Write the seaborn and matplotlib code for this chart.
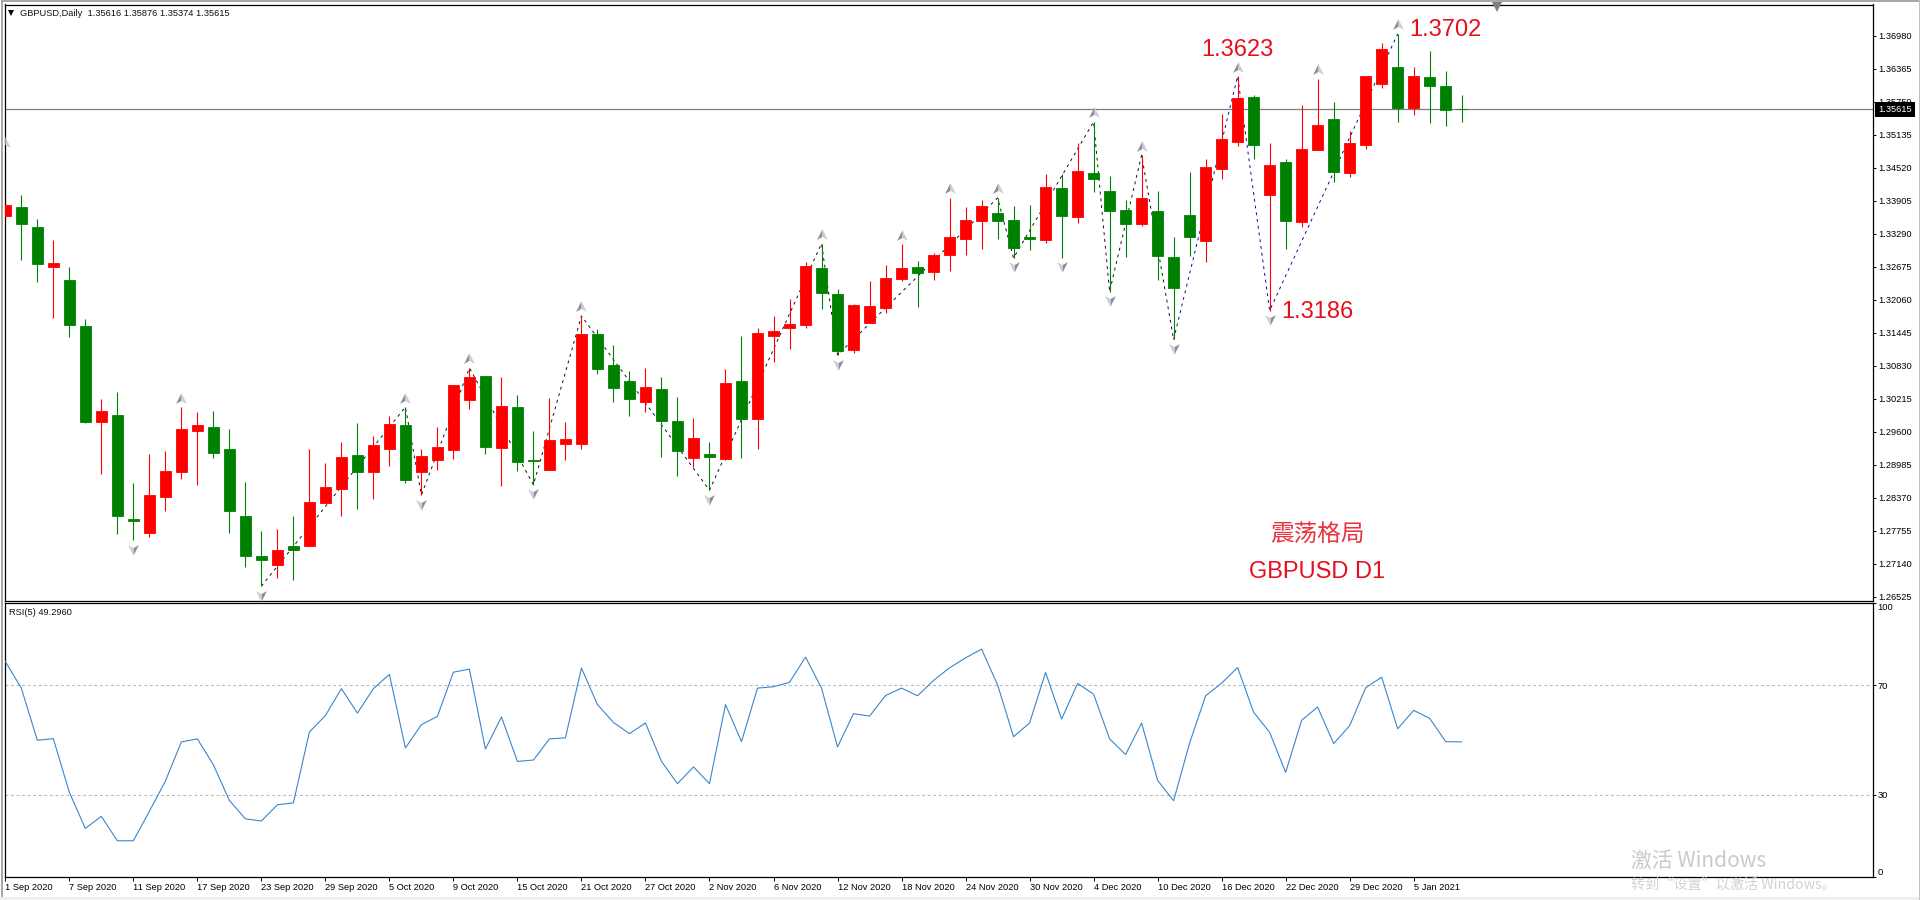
import numpy as np
import pandas as pd
import matplotlib
matplotlib.use("Agg")
import matplotlib.pyplot as plt
import matplotlib.transforms as mtrans
from matplotlib.path import Path
from matplotlib.patches import Rectangle
import seaborn as sns

highs = [1.3482,1.3402,1.3357,1.3318,1.3267,1.3170,1.3021,1.30335,1.2865,1.2918,
1.2924,1.3006,1.2997,1.2999,1.2965,1.2866,1.2775,1.2779,1.2803,1.2928,
1.2902,1.2941,1.2977,1.2952,1.2989,1.3006,1.2928,1.2969,1.3047,1.3079,
1.3064,1.3062,1.3028,1.2961,1.3023,1.2978,1.3176,1.3152,1.3122,1.3073,
1.3079,1.3062,1.3025,1.2986,1.2941,1.3077,1.3138,1.3153,1.3176,1.3207,
1.3276,1.3311,1.3226,1.3198,1.3241,1.3271,1.3310,1.3278,1.3293,1.3396,
1.3379,1.3392,1.3396,1.3381,1.3383,1.3441,1.3441,1.3498,1.3538,1.3437,
1.3392,1.3476,1.3409,1.3323,1.3444,1.3469,1.3552,1.3623,1.3588,1.3498,
1.3469,1.3569,1.3618,1.3575,1.3521,1.3623,1.3685,1.3702,1.3640,1.3670,1.3633,1.35876]

lows = [1.3355,1.3280,1.3239,1.3172,1.3137,1.2977,1.2881,1.2769,1.2758,1.2764,
1.2813,1.2872,1.2861,1.2911,1.2772,1.2708,1.2672,1.2687,1.26835,1.2747,
1.2828,1.2803,1.2816,1.2835,1.2896,1.2864,1.2842,1.2889,1.2909,1.3002,
1.2918,1.2859,1.2887,1.2861,1.2889,1.2907,1.2928,1.3068,1.3015,1.2989,
1.2997,1.2913,1.2877,1.2895,1.2851,1.2907,1.2911,1.2928,1.3090,1.3114,
1.3153,1.3189,1.3103,1.3107,1.3163,1.3181,1.3241,1.3193,1.3243,1.3260,
1.3290,1.3301,1.3319,1.3284,1.3299,1.3312,1.3284,1.3349,1.3407,1.3221,
1.3286,1.3344,1.3243,1.3132,1.3288,1.3276,1.3431,1.3493,1.3469,1.3186,
1.3301,1.3342,1.3485,1.3426,1.3435,1.3487,1.3601,1.3538,1.3551,1.3536,1.3530,1.35374]

opens = [1.3362,1.3379,1.3342,1.3267,1.3243,1.3157,1.2979,1.2991,1.2797,1.2772,
1.2839,1.2885,1.2961,1.2969,1.2928,1.2803,1.2728,1.2711,1.2747,1.2747,
1.2828,1.2853,1.2917,1.2885,1.2928,1.2973,1.2885,1.2907,1.2926,1.3019,
1.3064,1.2930,1.3006,1.2907,1.2889,1.2937,1.2937,1.3142,1.3084,1.3055,
1.3015,1.3040,1.2980,1.2911,1.2918,1.2909,1.3055,1.2984,1.3138,1.3153,
1.3159,1.3265,1.3217,1.3112,1.3163,1.3191,1.3245,1.3267,1.3258,1.3290,
1.3319,1.3353,1.3368,1.3355,1.3323,1.3317,1.3414,1.3360,1.3442,1.3409,
1.3373,1.3347,1.3372,1.3286,1.3364,1.3316,1.3450,1.3501,1.3584,1.3401,
1.3463,1.3351,1.3485,1.3543,1.3442,1.3495,1.3608,1.3640,1.3564,1.3621,1.3605,1.35616]

closes = [1.3383,1.3347,1.3273,1.3275,1.3159,1.2979,1.2999,1.2802,1.2794,1.2842,
1.2887,1.2965,1.2973,1.2921,1.2813,1.2729,1.2720,1.2739,1.2739,1.2829,
1.2857,1.2913,1.2885,1.2935,1.2974,1.2870,1.2915,1.2931,1.3047,1.3062,
1.2931,1.3008,1.2904,1.2905,1.2945,1.2946,1.3142,1.3077,1.3042,1.3021,
1.3043,1.2980,1.2924,1.2948,1.2913,1.3051,1.2984,1.3144,1.3148,1.3161,
1.3269,1.3219,1.3110,1.3196,1.3194,1.3247,1.3265,1.3256,1.3290,1.3323,
1.3355,1.3381,1.3353,1.3303,1.3320,1.3416,1.3362,1.3446,1.3431,1.3372,
1.3347,1.3396,1.3288,1.3228,1.3323,1.3454,1.3506,1.3582,1.3495,1.3457,
1.3353,1.3487,1.3532,1.3444,1.3498,1.3623,1.3674,1.3564,1.3623,1.3605,1.3560,1.35615]

rsi_values = [78.6,68.9,49.9,50.5,31.0,17.8,22.2,13.3,13.3,24.0,
35.0,49.3,50.4,41.0,28.0,21.3,20.5,26.4,27.1,52.9,
58.9,68.7,59.8,68.7,73.9,47.1,55.6,58.6,74.7,75.8,
46.7,58.4,42.2,42.7,50.4,50.8,76.2,62.9,56.4,52.3,
56.2,42.2,34.1,40.2,34.1,62.9,49.4,68.9,69.4,71.0,
80.2,68.9,47.5,59.6,58.7,66.2,68.9,66.1,71.7,76.3,
79.9,83.1,70.1,51.2,56.2,74.6,57.6,70.6,66.7,50.4,
44.7,56.2,35.3,27.9,48.9,66.1,70.7,76.4,60.1,52.8,
38.2,57.2,62.0,48.7,55.2,69.0,72.9,54.1,60.8,57.9,49.4,49.3]

date_labels = ["1 Sep 2020","7 Sep 2020","11 Sep 2020","17 Sep 2020","23 Sep 2020","29 Sep 2020",
"5 Oct 2020","9 Oct 2020","15 Oct 2020","21 Oct 2020","27 Oct 2020","2 Nov 2020","6 Nov 2020",
"12 Nov 2020","18 Nov 2020","24 Nov 2020","30 Nov 2020","4 Dec 2020","10 Dec 2020","16 Dec 2020",
"22 Dec 2020","29 Dec 2020","5 Jan 2021"]
price_ticks = [1.36980,1.36365,1.35750,1.35135,1.34520,1.33905,1.33290,1.32675,1.32060,
1.31445,1.30830,1.30215,1.29600,1.28985,1.28370,1.27755,1.27140,1.26525]
rsi_ticks = [100,70,30,0]
current_price = 1.35615

# zigzag pivots: (candle index, side of candle)
zigzag_black = [(16,"L"),(25,"H"),(26,"L"),(29,"H"),(33,"L"),(36,"H"),(44,"L"),(51,"H"),(52,"L"),
                (62,"H"),(63,"L"),(68,"H"),(69,"L"),(71,"H"),(73,"L")]
zigzag_blue = [(73,"L"),(77,"H"),(79,"L"),(87,"H")]
arrow_up_idx = [0,11,25,29,36,51,56,59,62,68,71,77,82,87]
arrow_down_idx = [8,16,26,33,44,52,63,66,69,73,79]

sns.set_theme(style="white")
plt.rcParams["font.family"] = ["Liberation Sans", "Noto Sans CJK SC"]
plt.rcParams["axes.unicode_minus"] = False

W, H = 1920, 900
fig = plt.figure(figsize=(W/100, H/100), dpi=100, facecolor="white")

def axes_px(left, top, right, bottom):
    return fig.add_axes([left/W, 1-bottom/H, (right-left)/W, (bottom-top)/H])

ax = axes_px(4.5, 4.5, 1873, 600.7)
ax2 = axes_px(4.5, 602.7, 1873, 877.3)

RED, GREEN = "#FF0000", "#008000"
df = pd.DataFrame({"i": np.arange(len(opens)), "o": opens, "h": highs, "l": lows, "c": closes})
df["top"] = df[["o", "c"]].max(axis=1)
df["bot"] = df[["o", "c"]].min(axis=1)
df["up"] = df["c"] >= df["o"]

# zigzag and current price, behind the candles
def zz(pivots, color):
    xs = [p[0] for p in pivots]
    ys = [df.loc[p[0], "h"] if p[1] == "H" else df.loc[p[0], "l"] for p in pivots]
    sns.lineplot(x=xs, y=ys, ax=ax, sort=False, estimator=None, color=color, linewidth=0.7,
                 linestyle=(0, (3, 4)), zorder=1)
zz(zigzag_black, "#111111")
zz(zigzag_blue, "#0A0A90")
ax.axhline(current_price, color="#808080", linewidth=0.9, zorder=0.5)

# candles
for is_up, color in [(True, RED), (False, GREEN)]:
    sub = df[df["up"] == is_up]
    ax.vlines(sub["i"], sub["l"], sub["h"], colors=color, linewidth=0.8, zorder=2)
    sns.barplot(x=sub["i"].values, y=(sub["top"]-sub["bot"]).values, bottom=sub["bot"].values,
                native_scale=True, width=0.66, color=color, saturation=1, errorbar=None,
                edgecolor=color, linewidth=0.6, ax=ax, zorder=3)

# arrow marks
left_half = Path([(0, 1), (-1, -1), (0, -0.45), (0, 1)], closed=True)
right_half = Path([(0, 1), (1, -1), (0, -0.45), (0, 1)], closed=True)
flip = mtrans.Affine2D().scale(-1, -1)
up_tr = mtrans.offset_copy(ax.transData, fig=fig, y=9.5, units="dots")
dn_tr = mtrans.offset_copy(ax.transData, fig=fig, y=-9.5, units="dots")
def full_marker(path):
    v = np.vstack([path.vertices, [[1, 1], [-1, -1]]])
    return Path(v, [Path.MOVETO, Path.LINETO, Path.LINETO, Path.CLOSEPOLY, Path.MOVETO, Path.MOVETO])
for idxs, col, tr, paths in [
    (arrow_up_idx, "h", up_tr, (left_half, right_half)),
    (arrow_down_idx, "l", dn_tr, (left_half.transformed(flip), right_half.transformed(flip))),
]:
    xs = idxs
    ys = df.loc[idxs, col].values
    for p, shade in zip(paths, ("#8E8E9A", "#CCCCDA")):
        sns.scatterplot(x=xs, y=ys, ax=ax, marker=full_marker(p), s=60, color=shade,
                        linewidth=0, transform=tr, zorder=4, legend=False)

# RSI
sns.lineplot(x=df["i"].values, y=rsi_values, ax=ax2, color="#3A86CC", linewidth=0.8,
             estimator=None, sort=False, zorder=3)
for lvl in (70, 30):
    ax2.axhline(lvl, color="#B8B8B8", linewidth=0.8, linestyle=(0, (2.5, 2.5)), zorder=1)

xlim = (-0.05, 116.7)
ax.set_xlim(*xlim)
ax.set_ylim(1.26449, 1.37567)
ax2.set_xlim(*xlim)
ax2.set_ylim(0, 100)

fs = 6.7
for a in (ax, ax2):
    a.set_xlabel(""); a.set_ylabel("")
    a.grid(False)
    a.set_facecolor("white")
    for s in a.spines.values():
        s.set_color("black"); s.set_linewidth(0.9); s.set_visible(True)
    a.yaxis.tick_right()
ax.set_xticks([])
ax.set_yticks(price_ticks)
ax.set_yticklabels([f"{v:.5f}" for v in price_ticks], fontsize=fs, color="black")
ax.tick_params(axis="y", which="major", right=True, left=False, length=2.2, width=0.7, pad=1.5, color="black")

ax2.set_yticks(rsi_ticks)
ax2.set_yticklabels([str(v) for v in rsi_ticks], fontsize=fs, color="black")
ax2.tick_params(axis="y", right=True, left=False, length=2.2, width=0.7, pad=1.2, color="black")
labs = ax2.get_yticklabels()
labs[0].set_verticalalignment("top")
labs[3].set_verticalalignment("bottom")

ax2.set_xticks(df["i"].values[::4][:len(date_labels)])
ax2.set_xticklabels(date_labels, fontsize=fs, color="black", ha="left")
ax2.tick_params(axis="x", bottom=True, length=2.6, width=0.7, pad=1.6, color="black")

# current price tag
ax.annotate(f"{current_price:.5f}", xy=(1, current_price), xycoords=("axes fraction", "data"),
            xytext=(3.7, 0), textcoords="offset points", va="center", ha="left", fontsize=fs,
            color="white", annotation_clip=False, zorder=10,
            bbox=dict(boxstyle="square,pad=0.32", fc="black", ec="black", lw=0))

def T(x, y, s, **kw):
    kw.setdefault("va", "center"); kw.setdefault("ha", "left")
    fig.text(x/W, 1-y/H, s, **kw)

REDT = "#E60F1E"
T(20, 13.4, "GBPUSD,Daily  1.35616 1.35876 1.35374 1.35615", fontsize=6.7, color="#111111")
T(9, 612.4, "RSI(5) 49.2960", fontsize=6.7, color="#111111")
T(1237.5, 50.5, "1.3623", fontsize=17, color=REDT, ha="center")
T(1445, 29.5, "1.3702", fontsize=17, color=REDT, ha="center")
T(1317, 312, "1.3186", fontsize=17, color=REDT, ha="center")
T(1317, 534.5, "震荡格局", fontsize=17, color="#E8323C", ha="center",
  family=["Noto Sans CJK SC", "Liberation Sans"], fontweight="light")
T(1317, 572, "GBPUSD D1", fontsize=17, color=REDT, ha="center")
T(1631, 861, "激活 Windows", fontsize=15, color="#CACACA",
  family=["Noto Sans CJK SC", "Liberation Sans"])
T(1631, 884.5, "转到“设置”以激活 Windows。", fontsize=10.2, color="#D2D2D2",
  family=["Noto Sans CJK SC", "Liberation Sans"])

# chart window markers and frame
def mark(x, y, m, c, s):
    fig.add_artist(plt.Line2D([x/W], [1-y/H], marker=m, color=c, markersize=s, linewidth=0,
                              markeredgewidth=0, transform=fig.transFigure))
mark(11.4, 12.7, "v", "black", 4.8)
mark(1497, 7, "v", "#7A7F88", 7)

for (x, y, w, h, c) in [(1, 0, W, 2, "#A8A8A8"), (1, 0, 2, H, "#A8A8A8"),
                        (0, 897, W, 3, "#EFEFEF"), (1918.5, 0, 1.5, H, "#C0C0C0")]:
    fig.add_artist(Rectangle((x/W, 1-(y+h)/H), w/W, h/H, transform=fig.transFigure,
                             facecolor=c, edgecolor="none", zorder=20))

fig.savefig("out.png", dpi=100)
